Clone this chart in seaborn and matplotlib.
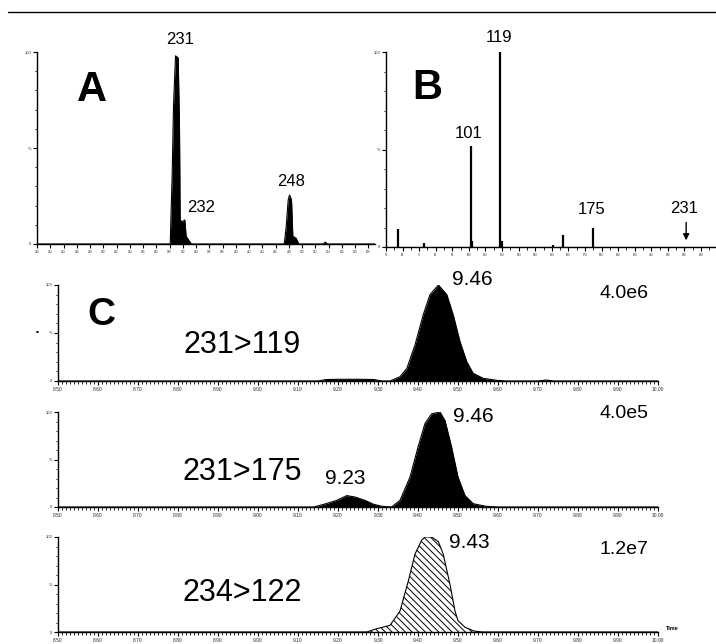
import numpy as np
import pandas as pd
import matplotlib
matplotlib.use("Agg")
import matplotlib.pyplot as plt
from matplotlib.lines import Line2D
from matplotlib.ticker import MultipleLocator, FormatStrFormatter
import seaborn as sns

# ---------------- data ----------------
# Panel A: full-scan spectrum (profile), m/z vs relative intensity (%)
mz_a = [210, 230.1, 230.4, 230.6, 230.9, 231.3, 231.5, 231.6, 231.9, 232.3, 232.5, 232.9, 233.3,
        247.3, 247.6, 247.9, 248.1, 248.4, 248.6, 249.1, 249.5, 253.2, 253.5, 253.8, 261]
int_a = [0, 0, 37, 72, 98, 97, 61, 12.5, 11.6, 12.5, 4, 2, 0,
         0, 9, 23, 25.5, 23, 4, 3, 0, 0, 1, 0, 0]
labels_a = ["231", "232", "248"]
label_mz_a = [231, 232, 248]

# Panel B: product-ion spectrum (sticks)
mz_b = [57, 73, 101, 102, 119, 120, 151, 157, 175]
int_b = [9, 2, 52, 3, 100, 3, 1, 6, 10]
labels_b = ["101", "119", "175", "231"]
label_mz_b = [101, 119, 175, 231]

# Panel C: MRM chromatograms, time (min) vs relative intensity (%)
t_c1 = [8.50, 9.15, 9.17, 9.20, 9.25, 9.29, 9.31, 9.33, 9.355, 9.372, 9.3925, 9.413, 9.43, 9.451,
        9.472, 9.488, 9.505, 9.522, 9.538, 9.563, 9.597, 9.62, 9.70, 9.72, 9.74, 10.0]
i_c1 = [0, 0, 1.5, 1.8, 1.8, 1.5, 0, 0, 4.5, 13, 37.5, 69, 90, 100,
        90, 69, 41, 20, 8, 2.8, 0.7, 0, 0, 1, 0, 0]
t_c2 = [8.50, 9.14, 9.17, 9.197, 9.222, 9.2425, 9.2675, 9.288, 9.31, 9.334, 9.355, 9.38, 9.40,
        9.4175, 9.434, 9.455, 9.4675, 9.484, 9.50, 9.5175, 9.538, 9.57, 9.60, 10.0]
i_c2 = [0, 0, 3.5, 7, 12, 10.5, 7, 3, 0.7, 0, 7, 31.5, 63,
        88, 98, 100, 91, 63, 31.5, 12, 3.5, 0.7, 0, 0]
t_c3 = [8.50, 9.272, 9.297, 9.33, 9.355, 9.376, 9.3925, 9.409, 9.4175, 9.434, 9.451, 9.463, 9.48,
        9.4925, 9.50, 9.5175, 9.54, 9.56, 10.0]
i_c3 = [0, 0, 3.5, 7, 22, 54, 82, 96.5, 100, 100, 95, 82, 50,
        22, 12, 5, 1, 0, 0]
transitions = ["231>119", "231>175", "234>122"]
apex_labels = ["9.46", "9.46", "9.43"]
scale_labels = ["4.0e6", "4.0e5", "1.2e7"]

# ---------------- style ----------------
sns.set_theme(style="ticks")
plt.rcParams["font.family"] = ["Liberation Sans", "DejaVu Sans"]
plt.rcParams["hatch.linewidth"] = 0.7

W, H = 716, 644
fig = plt.figure(figsize=(W / 100, H / 100), dpi=100)


def px_axes(x0, y0, x1, y1):
    return fig.add_axes([x0 / W, 1 - y1 / H, (x1 - x0) / W, (y1 - y0) / H])


def ftext(x, y, s, size, weight="normal", **kw):
    fig.text(x / W, 1 - y / H, s, fontsize=size, fontweight=weight,
             ha="center", va="center", color="black", **kw)


def style_axis(ax, tiny=3):
    sns.despine(ax=ax, top=True, right=True)
    for sp in ("left", "bottom"):
        ax.spines[sp].set_linewidth(1.0)
        ax.spines[sp].set_color("black")
    ax.set_ylim(0, 100)
    ax.yaxis.set_major_locator(MultipleLocator(50))
    ax.yaxis.set_minor_locator(MultipleLocator(10))
    ax.set_yticks([0, 50, 100])
    ax.set_yticklabels(["0", "%", "100"])
    ax.tick_params(axis="both", which="major", labelsize=tiny, length=3, width=0.8,
                   pad=1, color="black")
    ax.tick_params(axis="both", which="minor", length=1.8, width=0.6, color="black")
    ax.set_xlabel("")
    ax.set_ylabel("")
    ax.patch.set_alpha(0)


# top rule
fig.add_artist(Line2D([8 / W, 1], [1 - 12 / H] * 2, color="black", lw=1.0))

# ---------------- Panel A ----------------
axA = px_axes(37, 52, 375, 244)
sns.lineplot(x=mz_a, y=int_a, ax=axA, color="black", lw=0.8, estimator=None, sort=False)
axA.fill_between(mz_a, int_a, 0, color="black", lw=0)
axA.set_xlim(210, 261)
style_axis(axA)
axA.xaxis.set_major_locator(MultipleLocator(2))
axA.xaxis.set_major_formatter(FormatStrFormatter("%d"))
axA.tick_params(axis="x", labelsize=2)

# ---------------- Panel B ----------------
axB = px_axes(386, 52, 716, 247)
axB.vlines(mz_b, 0, int_b, color="black", lw=1.6)
sns.lineplot(x=[50, 249], y=[0, 0], ax=axB, color="black", lw=0.8)
axB.set_xlim(50, 249)
style_axis(axB)
axB.xaxis.set_major_locator(MultipleLocator(10))
axB.xaxis.set_minor_locator(MultipleLocator(5))
axB.xaxis.set_major_formatter(FormatStrFormatter("%d"))
axB.tick_params(axis="x", labelsize=2)
axB.annotate("", xy=(label_mz_b[3], 2), xytext=(label_mz_b[3], 14),
             arrowprops=dict(arrowstyle="-|>", color="black", lw=1.0, mutation_scale=9))

# ---------------- Panel C ----------------
chrom = [(t_c1, i_c1, 285, 381, False), (t_c2, i_c2, 412, 507, False), (t_c3, i_c3, 537, 632, True)]
axesC = []
for (t, inten, ytop, ybot, hatched) in chrom:
    ax = px_axes(58, ytop, 658, ybot)
    sns.lineplot(x=t, y=inten, ax=ax, color="black", lw=0.8, estimator=None, sort=False)
    if hatched:
        ax.fill_between(t, inten, 0, facecolor="white", edgecolor="black",
                        hatch="\\\\\\\\\\", lw=0)
    else:
        ax.fill_between(t, inten, 0, color="black", lw=0)
    ax.set_xlim(8.5, 10.0)
    style_axis(ax)
    ax.xaxis.set_major_locator(MultipleLocator(0.1))
    ax.xaxis.set_minor_locator(MultipleLocator(0.01))
    ax.xaxis.set_major_formatter(FormatStrFormatter("%.2f"))
    ax.tick_params(axis="x", labelsize=3.5)
    axesC.append(ax)

# ---------------- texts ----------------
ftext(92, 90, "A", 30, "bold")
ftext(427, 88, "B", 30, "bold")
ftext(101, 315, "C", 28, "bold")

ftext(180, 40, labels_a[0], 12)
ftext(201, 207, labels_a[1], 12)
ftext(291, 182, labels_a[2], 12)

ftext(469, 133, labels_b[0], 12)
ftext(499, 37, labels_b[1], 12)
ftext(592, 210, labels_b[2], 12)
ftext(684, 209, labels_b[3], 12)

for yc, tr in zip([345, 472, 593], transitions):
    ftext(242, yc, tr, 22)
ftext(472, 280, apex_labels[0], 15)
ftext(473, 416, apex_labels[1], 15)
ftext(469, 542, apex_labels[2], 15)
ftext(345, 478, "9.23", 15)
ftext(624, 293, scale_labels[0], 14)
ftext(624, 414, scale_labels[1], 14)
ftext(624, 549, scale_labels[2], 14)
ftext(672, 629, "Time", 4, "bold")
ftext(37, 332, "\u25aa", 6)

fig.savefig("out.png", dpi=100)
